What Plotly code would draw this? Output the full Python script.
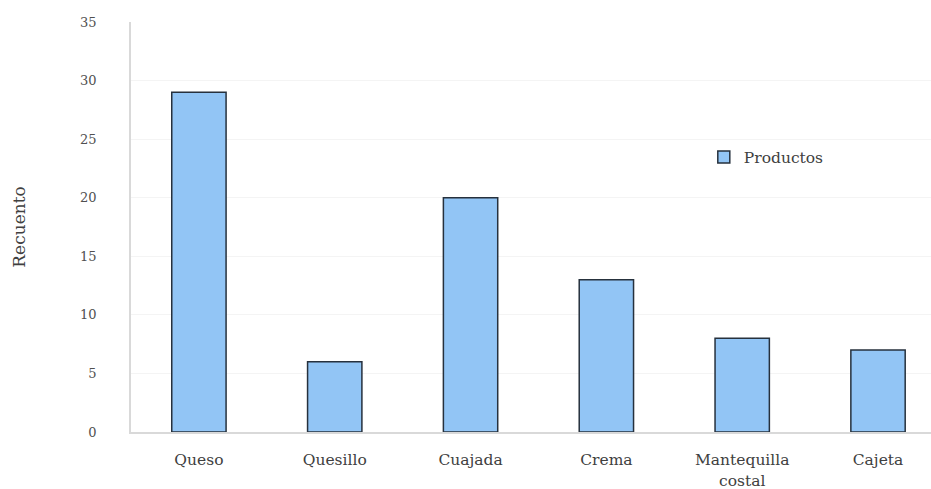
import plotly.graph_objects as go

categorias = ["Queso", "Quesillo", "Cuajada", "Crema", "Mantequilla<br>costal", "Cajeta"]
recuento = [29, 6, 20, 13, 8, 7]
y_ticks = [0, 5, 10, 15, 20, 25, 30, 35]

serif = "DejaVu Serif"

fig = go.Figure()
fig.add_trace(go.Bar(
    x=list(range(len(categorias))),
    y=recuento,
    name="Productos",
    width=0.4,
    marker=dict(color="#92C5F5", line=dict(color="#26313d", width=1.5)),
))

fig.update_layout(
    width=931, height=489,
    margin=dict(l=131, r=0, t=22, b=57),
    paper_bgcolor="white", plot_bgcolor="white",
    font=dict(family=serif, size=13, color="#595959"),
    showlegend=True,
    legend=dict(
        x=0.716, y=0.67, xanchor="left", yanchor="middle",
        font=dict(family=serif, size=15.5, color="#404040"),
        bgcolor="rgba(0,0,0,0)",
        itemwidth=30,
    ),
)
fig.update_xaxes(
    tickmode="array", tickvals=list(range(len(categorias))), ticktext=categorias,
    range=[-0.5, 5.39], automargin=False,
    showline=True, linecolor="#d9d9d9", linewidth=1.5,
    showgrid=False, ticks="", ticklen=0, ticklabelstandoff=13,
    tickfont=dict(family=serif, size=15.5, color="#404040"),
)
fig.update_yaxes(
    range=[0, 35], tickvals=y_ticks, automargin=False,
    showline=True, linecolor="#d9d9d9", linewidth=1.5,
    showgrid=True, gridcolor="#f4f4f4", gridwidth=1,
    zeroline=False, ticks="", ticklabelstandoff=30,
    tickfont=dict(family=serif, size=13, color="#505050"),
    title=dict(text="Recuento", standoff=50, font=dict(family=serif, size=17, color="#404040")),
)

fig.write_html("out.html")
